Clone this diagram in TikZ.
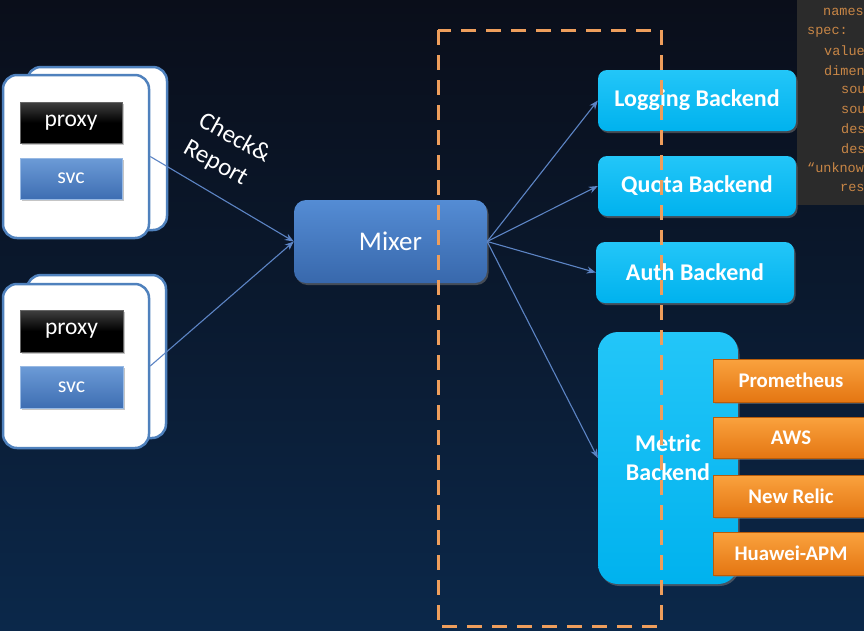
\documentclass[tikz,border=0pt]{standalone}
\usepackage{fontspec}
\setmainfont{Carlito}
\newfontfamily\codefont{Liberation Mono}
\usetikzlibrary{shadows,arrows.meta}
\definecolor{bgtop}{RGB}{10,14,26}
\definecolor{bgbot}{RGB}{11,40,74}
\definecolor{podblue}{RGB}{79,129,189}
\definecolor{svctop}{RGB}{108,155,215}
\definecolor{svcbot}{RGB}{62,110,178}
\definecolor{mixtop}{RGB}{84,140,212}
\definecolor{mixbot}{RGB}{56,104,172}
\definecolor{cyantop}{RGB}{35,198,248}
\definecolor{cyanbot}{RGB}{0,178,238}
\definecolor{orgtop}{RGB}{250,162,62}
\definecolor{orgbot}{RGB}{228,118,18}
\definecolor{orgline}{RGB}{185,92,10}
\definecolor{arrowc}{RGB}{92,132,196}
\definecolor{dashc}{RGB}{238,158,92}
\definecolor{panelc}{RGB}{43,43,43}
\definecolor{codec}{RGB}{200,134,70}
\begin{document}
\begin{tikzpicture}[x=1pt,y=-1pt,
  podcard/.style={draw=podblue,line width=2.5pt,fill=white,rounded corners=14pt,inner sep=0pt},
  proxybox/.style={draw=black!60,line width=0.8pt,top color=black!75,bottom color=black,middle color=black,text=white,inner sep=0pt,font=\fontsize{23.5}{28}\selectfont,drop shadow={opacity=0.45,shadow xshift=1.5pt,shadow yshift=-2pt}},
  svcbox/.style={draw=svctop!70!white,line width=0.8pt,top color=svctop,bottom color=svcbot,text=white,inner sep=0pt,font=\fontsize{22}{26}\selectfont,drop shadow={opacity=0.45,shadow xshift=1.5pt,shadow yshift=-2pt}},
  mixerbox/.style={top color=mixtop,bottom color=mixbot,rounded corners=12pt,text=white,inner sep=0pt,font=\fontsize{27}{32}\selectfont,drop shadow={opacity=0.5,shadow xshift=1.5pt,shadow yshift=-2pt}},
  backbox/.style={top color=cyantop,bottom color=cyanbot,rounded corners=9pt,text=white,inner sep=0pt,font=\bfseries\fontsize{24}{29}\selectfont,drop shadow={opacity=0.5,shadow xshift=1.5pt,shadow yshift=-2pt}},
  orgbox/.style={top color=orgtop,bottom color=orgbot,draw=orgline,line width=0.8pt,text=white,inner sep=0pt,minimum width=156pt,font=\bfseries\fontsize{20.8}{25}\selectfont,drop shadow={opacity=0.5,shadow xshift=1.5pt,shadow yshift=-2pt}},
  conn/.style={draw=arrowc,line width=1.1pt,-{Stealth[length=9pt,width=7pt]}},
  codetxt/.style={anchor=west,inner sep=0pt,text=codec,font=\codefont\fontsize{13.5}{16}\selectfont}]
\useasboundingbox (0,0) rectangle (864,630);
\clip (0,0) rectangle (864,630);
% background
\shade[top color=bgtop,bottom color=bgbot,middle color=bgtop!55!bgbot] (0,0) rectangle (864,630);
% code panel
\fill[panelc] (797,-2) rectangle (866,205);
\begin{scope}
\clip (797,0) rectangle (864,205);
\node[codetxt] (c1) at (823,12) {names};
\node[codetxt] (c2) at (807,32) {spec:};
\node[codetxt] (c3) at (824,51) {value};
\node[codetxt] (c4) at (824,71) {dimen};
\node[codetxt] (c5) at (841,90) {sou};
\node[codetxt] (c6) at (841,110) {sou};
\node[codetxt] (c7) at (841,129) {des};
\node[codetxt] (c8) at (841,149) {des};
\node[codetxt] (c9) at (807,168) {“unknow};
\node[codetxt] (c10) at (840,188) {res};
\end{scope}
% pods
\node[podcard,minimum width=140pt,minimum height=163pt] (back1) at (97,148.5) {};
\node[podcard,minimum width=146pt,minimum height=163pt] (front1) at (76,156.5) {};
\node[proxybox,minimum width=102pt,minimum height=41pt] (proxy1) at (71,122.5) {proxy};
\node[svcbox,minimum width=102pt,minimum height=41pt] (svc1) at (71,178.5) {svc};
\node[podcard,minimum width=139pt,minimum height=163pt] (back2) at (96.5,356.5) {};
\node[podcard,minimum width=146pt,minimum height=164pt] (front2) at (76,366) {};
\node[proxybox,minimum width=103pt,minimum height=42pt] (proxy2) at (71.5,331) {proxy};
\node[svcbox,minimum width=103pt,minimum height=42pt] (svc2) at (71.5,387) {svc};
% mixer and backends
\node[mixerbox,minimum width=193pt,minimum height=83pt] (mixer) at (390.5,241.5) {Mixer};
\node[backbox,minimum width=198pt,minimum height=61pt] (logging) at (697,100.5) {Logging Backend};
\node[backbox,minimum width=198pt,minimum height=60pt] (quota) at (697,186) {Quota Backend};
\node[backbox,minimum width=198pt,minimum height=61pt] (auth) at (695,272.5) {Auth Backend};
\node[backbox,rounded corners=20pt,minimum width=140pt,minimum height=252pt,align=center,font=\bfseries\fontsize{24}{29}\selectfont] (metric) at (668,458) {Metric\\Backend};
\node[orgbox,minimum height=43pt] (prom) at (791,380.5) {Prometheus};
\node[orgbox,minimum height=41pt] (aws) at (791,437.5) {AWS};
\node[orgbox,minimum height=42pt] (relic) at (791,496) {New Relic};
\node[orgbox,minimum height=43pt] (huawei) at (791,553.5) {Huawei-APM};
% connectors
\draw[conn] (front1.east) -- (mixer.west);
\draw[conn] (front2.east) -- (mixer.west);
\draw[conn] (mixer.east) -- (logging.west);
\draw[conn] (mixer.east) -- (quota.west);
\draw[conn] (mixer.east) -- (auth.west);
\draw[conn] (mixer.east) -- (metric.west);
% label
\node[text=white,rotate=-29,align=left,inner sep=0pt,font=\fontsize{25}{31}\selectfont] (cr) at (227,152) {Check\&\\Report};
% dashed boundary
\draw[dashc,line width=3pt,dash pattern=on 15pt off 10pt] (438,30) rectangle (661,626);
\end{tikzpicture}
\end{document}
